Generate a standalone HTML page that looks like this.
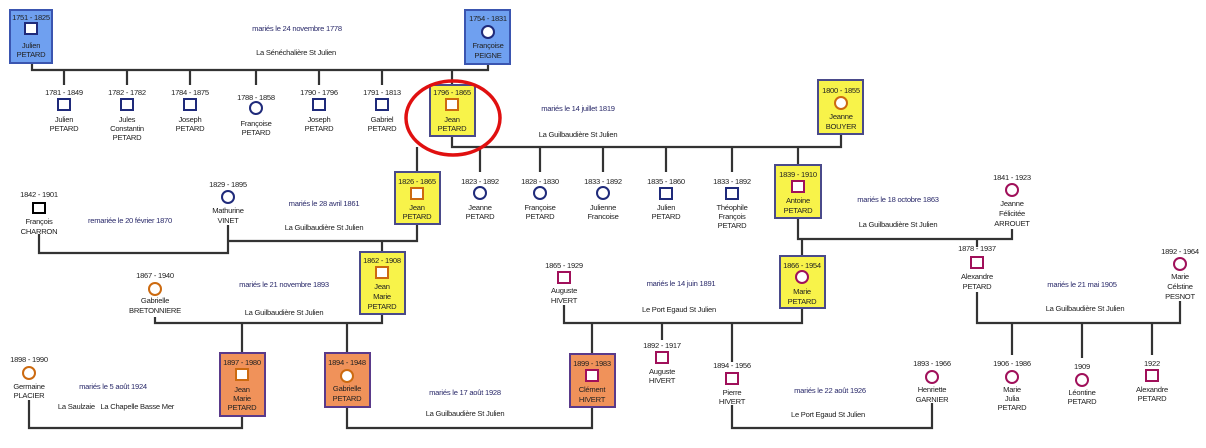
<!DOCTYPE html>
<html><head><meta charset="utf-8"><style>
html,body{margin:0;padding:0;background:#fff}
svg{display:block}
text{font-family:"Liberation Sans",sans-serif;font-size:7.6px;letter-spacing:-0.25px;fill:#222;text-anchor:middle}
.m{fill:#2a2a6a}
.l{stroke:#333;stroke-width:2.2;fill:none}
.b{stroke:#1f2a7a;stroke-width:2;fill:#fff}
.o{stroke:#cc6a10;stroke-width:2;fill:#fff}
.p{stroke:#a0105a;stroke-width:2;fill:#fff}
.k{stroke:#000;stroke-width:2;fill:#fff}
.bb{fill:#6fa0f0;stroke:#3a55b0;stroke-width:2}
.yb{fill:#f8f34a;stroke:#4a4a8a;stroke-width:2}
.ob{fill:#f0925a;stroke:#5a3a8a;stroke-width:2}
</style></head><body>
<svg width="1206" height="448" viewBox="0 0 1206 448" xmlns="http://www.w3.org/2000/svg">
<g class="l">
<path d="M32 63V70H488V64M64 70V85M127 70V85M190 70V85M256 70V85M319 70V85M382 70V85M452 70V85"/>
<path d="M452 136V147H841V134M417 147V172M480 147V172M540 147V172M603 147V172M666 147V172M732 147V172M798 147V165"/>
<path d="M417 224V241H228V225M228 241V253H39V234M382 241V252"/>
<path d="M798 218V239H1012V229M802 239V256"/>
<path d="M977 239V247M977 292V323H1180V301M1012 323V355M1082 323V358M1152 323V355"/>
<path d="M382 314V323H155V317M242 323V353M347 323V353"/>
<path d="M242 416V428H29V400M347 407V428H592V407"/>
<path d="M564 305V323H802V308M592 323V354M662 323V340M732 323V362"/>
<path d="M732 405V428H932V403"/>
</g>
<rect class="bb" x="10" y="10" width="42" height="53"/>
<rect class="bb" x="465" y="10" width="45" height="54"/>
<rect class="yb" x="430" y="85" width="45" height="51"/>
<rect class="yb" x="818" y="80" width="45" height="54"/>
<rect class="yb" x="395" y="172" width="45" height="52"/>
<rect class="yb" x="775" y="165" width="46" height="53"/>
<rect class="yb" x="360" y="252" width="45" height="62"/>
<rect class="yb" x="780" y="256" width="45" height="52"/>
<rect class="ob" x="220" y="353" width="45" height="63"/>
<rect class="ob" x="325" y="353" width="45" height="54"/>
<rect class="ob" x="570" y="354" width="45" height="53"/>
<ellipse cx="453" cy="118" rx="47" ry="37" fill="none" stroke="#e01010" stroke-width="3.5"/>

<text x="31" y="20">1751 - 1825</text><rect class="b" x="25" y="23" width="12" height="11"/><text x="31" y="48">Julien</text><text x="31" y="57">PETARD</text>
<text x="488" y="21">1754 - 1831</text><circle class="b" cx="488" cy="32" r="6"/><text x="488" y="48">Françoise</text><text x="488" y="58">PEIGNE</text>
<text class="m" x="297" y="31">mariés le 24 novembre 1778</text>
<text x="296" y="55">La Sénéchalière St Julien</text>

<text x="64" y="95">1781 - 1849</text><rect class="b" x="58" y="99" width="12" height="11"/><text x="64" y="122">Julien</text><text x="64" y="131">PETARD</text>
<text x="127" y="95">1782 - 1782</text><rect class="b" x="121" y="99" width="12" height="11"/><text x="127" y="122">Jules</text><text x="127" y="131">Constantin</text><text x="127" y="140">PETARD</text>
<text x="190" y="95">1784 - 1875</text><rect class="b" x="184" y="99" width="12" height="11"/><text x="190" y="122">Joseph</text><text x="190" y="131">PETARD</text>
<text x="256" y="100">1788 - 1858</text><circle class="b" cx="256" cy="108" r="6"/><text x="256" y="126">Françoise</text><text x="256" y="135">PETARD</text>
<text x="319" y="95">1790 - 1796</text><rect class="b" x="313" y="99" width="12" height="11"/><text x="319" y="122">Joseph</text><text x="319" y="131">PETARD</text>
<text x="382" y="95">1791 - 1813</text><rect class="b" x="376" y="99" width="12" height="11"/><text x="382" y="122">Gabriel</text><text x="382" y="131">PETARD</text>
<text x="452" y="95">1796 - 1865</text><rect class="o" x="446" y="99" width="12" height="11"/><text x="452" y="122">Jean</text><text x="452" y="131">PETARD</text>

<text x="841" y="93">1800 - 1855</text><circle class="o" cx="841" cy="103" r="6"/><text x="841" y="119">Jeanne</text><text x="841" y="129">BOUYER</text>
<text class="m" x="578" y="111">mariés le 14 juillet 1819</text>
<text x="578" y="137">La Guilbaudière St Julien</text>

<text x="417" y="184">1826 - 1865</text><rect class="o" x="411" y="188" width="12" height="11"/><text x="417" y="210">Jean</text><text x="417" y="219">PETARD</text>
<text x="480" y="184">1823 - 1892</text><circle class="b" cx="480" cy="193" r="6"/><text x="480" y="210">Jeanne</text><text x="480" y="219">PETARD</text>
<text x="540" y="184">1828 - 1830</text><circle class="b" cx="540" cy="193" r="6"/><text x="540" y="210">Françoise</text><text x="540" y="219">PETARD</text>
<text x="603" y="184">1833 - 1892</text><circle class="b" cx="603" cy="193" r="6"/><text x="603" y="210">Julienne</text><text x="603" y="219">Francoise</text>
<text x="666" y="184">1835 - 1860</text><rect class="b" x="660" y="188" width="12" height="11"/><text x="666" y="210">Julien</text><text x="666" y="219">PETARD</text>
<text x="732" y="184">1833 - 1892</text><rect class="b" x="726" y="188" width="12" height="11"/><text x="732" y="210">Théophile</text><text x="732" y="219">François</text><text x="732" y="228">PETARD</text>
<text x="798" y="177">1839 - 1910</text><rect class="p" x="792" y="181" width="12" height="11"/><text x="798" y="203">Antoine</text><text x="798" y="213">PETARD</text>

<text x="1012" y="180">1841 - 1923</text><circle class="p" cx="1012" cy="190" r="6"/><text x="1012" y="206">Jeanne</text><text x="1012" y="216">Félicitée</text><text x="1012" y="226">ARROUET</text>
<text class="m" x="898" y="202">mariés le 18 octobre 1863</text>
<text x="898" y="227">La Guilbaudière St Julien</text>

<text x="228" y="187">1829 - 1895</text><circle class="b" cx="228" cy="197" r="6"/><text x="228" y="213">Mathurine</text><text x="228" y="223">VINET</text>
<text x="39" y="197">1842 - 1901</text><rect class="k" x="33" y="203" width="12" height="10"/><text x="39" y="224">François</text><text x="39" y="234">CHARRON</text>
<text class="m" x="130" y="223">remariée le 20 février 1870</text>
<text class="m" x="324" y="206">mariés le 28 avril 1861</text>
<text x="324" y="230">La Guilbaudière St Julien</text>

<text x="382" y="263">1862 - 1908</text><rect class="o" x="376" y="267" width="12" height="11"/><text x="382" y="289">Jean</text><text x="382" y="299">Marie</text><text x="382" y="309">PETARD</text>
<text x="802" y="268">1866 - 1954</text><circle class="p" cx="802" cy="277" r="6"/><text x="802" y="294">Marie</text><text x="802" y="304">PETARD</text>
<text x="155" y="278">1867 - 1940</text><circle class="o" cx="155" cy="289" r="6"/><text x="155" y="303">Gabrielle</text><text x="155" y="313">BRETONNIERE</text>
<text class="m" x="284" y="287">mariés le 21 novembre 1893</text>
<text x="284" y="315">La Guilbaudière St Julien</text>
<text x="564" y="268">1865 - 1929</text><rect class="p" x="558" y="272" width="12" height="11"/><text x="564" y="293">Auguste</text><text x="564" y="303">HIVERT</text>
<text class="m" x="681" y="286">mariés le 14 juin 1891</text>
<text x="679" y="312">Le Port Egaud St Julien</text>

<text x="977" y="251">1878 - 1937</text><rect class="p" x="971" y="257" width="12" height="11"/><text x="977" y="279">Alexandre</text><text x="977" y="289">PETARD</text>
<text x="1180" y="254">1892 - 1964</text><circle class="p" cx="1180" cy="264" r="6"/><text x="1180" y="279">Marie</text><text x="1180" y="289">Célstine</text><text x="1180" y="299">PESNOT</text>
<text class="m" x="1082" y="287">mariés le 21 mai 1905</text>
<text x="1085" y="311">La Guilbaudière St Julien</text>

<text x="242" y="365">1897 - 1980</text><rect class="o" x="236" y="369" width="12" height="11"/><text x="242" y="392">Jean</text><text x="242" y="401">Marie</text><text x="242" y="410">PETARD</text>
<text x="347" y="365">1894 - 1948</text><circle class="o" cx="347" cy="376" r="6"/><text x="347" y="391">Gabrielle</text><text x="347" y="401">PETARD</text>
<text x="29" y="362">1898 - 1990</text><circle class="o" cx="29" cy="373" r="6"/><text x="29" y="389">Germaine</text><text x="29" y="398">PLACIER</text>
<text class="m" x="113" y="389">mariés le 5 août 1924</text>
<text x="116" y="409">La Saulzaie&#160;&#160; La Chapelle Basse Mer</text>
<text class="m" x="465" y="395">mariés le 17 août 1928</text>
<text x="465" y="416">La Guilbaudière St Julien</text>
<text x="592" y="366">1899 - 1983</text><rect class="p" x="586" y="370" width="12" height="11"/><text x="592" y="392">Clément</text><text x="592" y="402">HIVERT</text>
<text x="662" y="348">1892 - 1917</text><rect class="p" x="656" y="352" width="12" height="11"/><text x="662" y="374">Auguste</text><text x="662" y="383">HIVERT</text>
<text x="732" y="368">1894 - 1956</text><rect class="p" x="726" y="373" width="12" height="11"/><text x="732" y="395">Pierre</text><text x="732" y="404">HIVERT</text>
<text x="932" y="366">1893 - 1966</text><circle class="p" cx="932" cy="377" r="6"/><text x="932" y="392">Henriette</text><text x="932" y="402">GARNIER</text>
<text class="m" x="830" y="393">mariés le 22 août 1926</text>
<text x="828" y="417">Le Port Egaud St Julien</text>
<text x="1012" y="366">1906 - 1986</text><circle class="p" cx="1012" cy="377" r="6"/><text x="1012" y="392">Marie</text><text x="1012" y="401">Julia</text><text x="1012" y="410">PETARD</text>
<text x="1082" y="369">1909</text><circle class="p" cx="1082" cy="380" r="6"/><text x="1082" y="395">Léontine</text><text x="1082" y="404">PETARD</text>
<text x="1152" y="366">1922</text><rect class="p" x="1146" y="370" width="12" height="11"/><text x="1152" y="392">Alexandre</text><text x="1152" y="401">PETARD</text>
</svg>
</body></html>
